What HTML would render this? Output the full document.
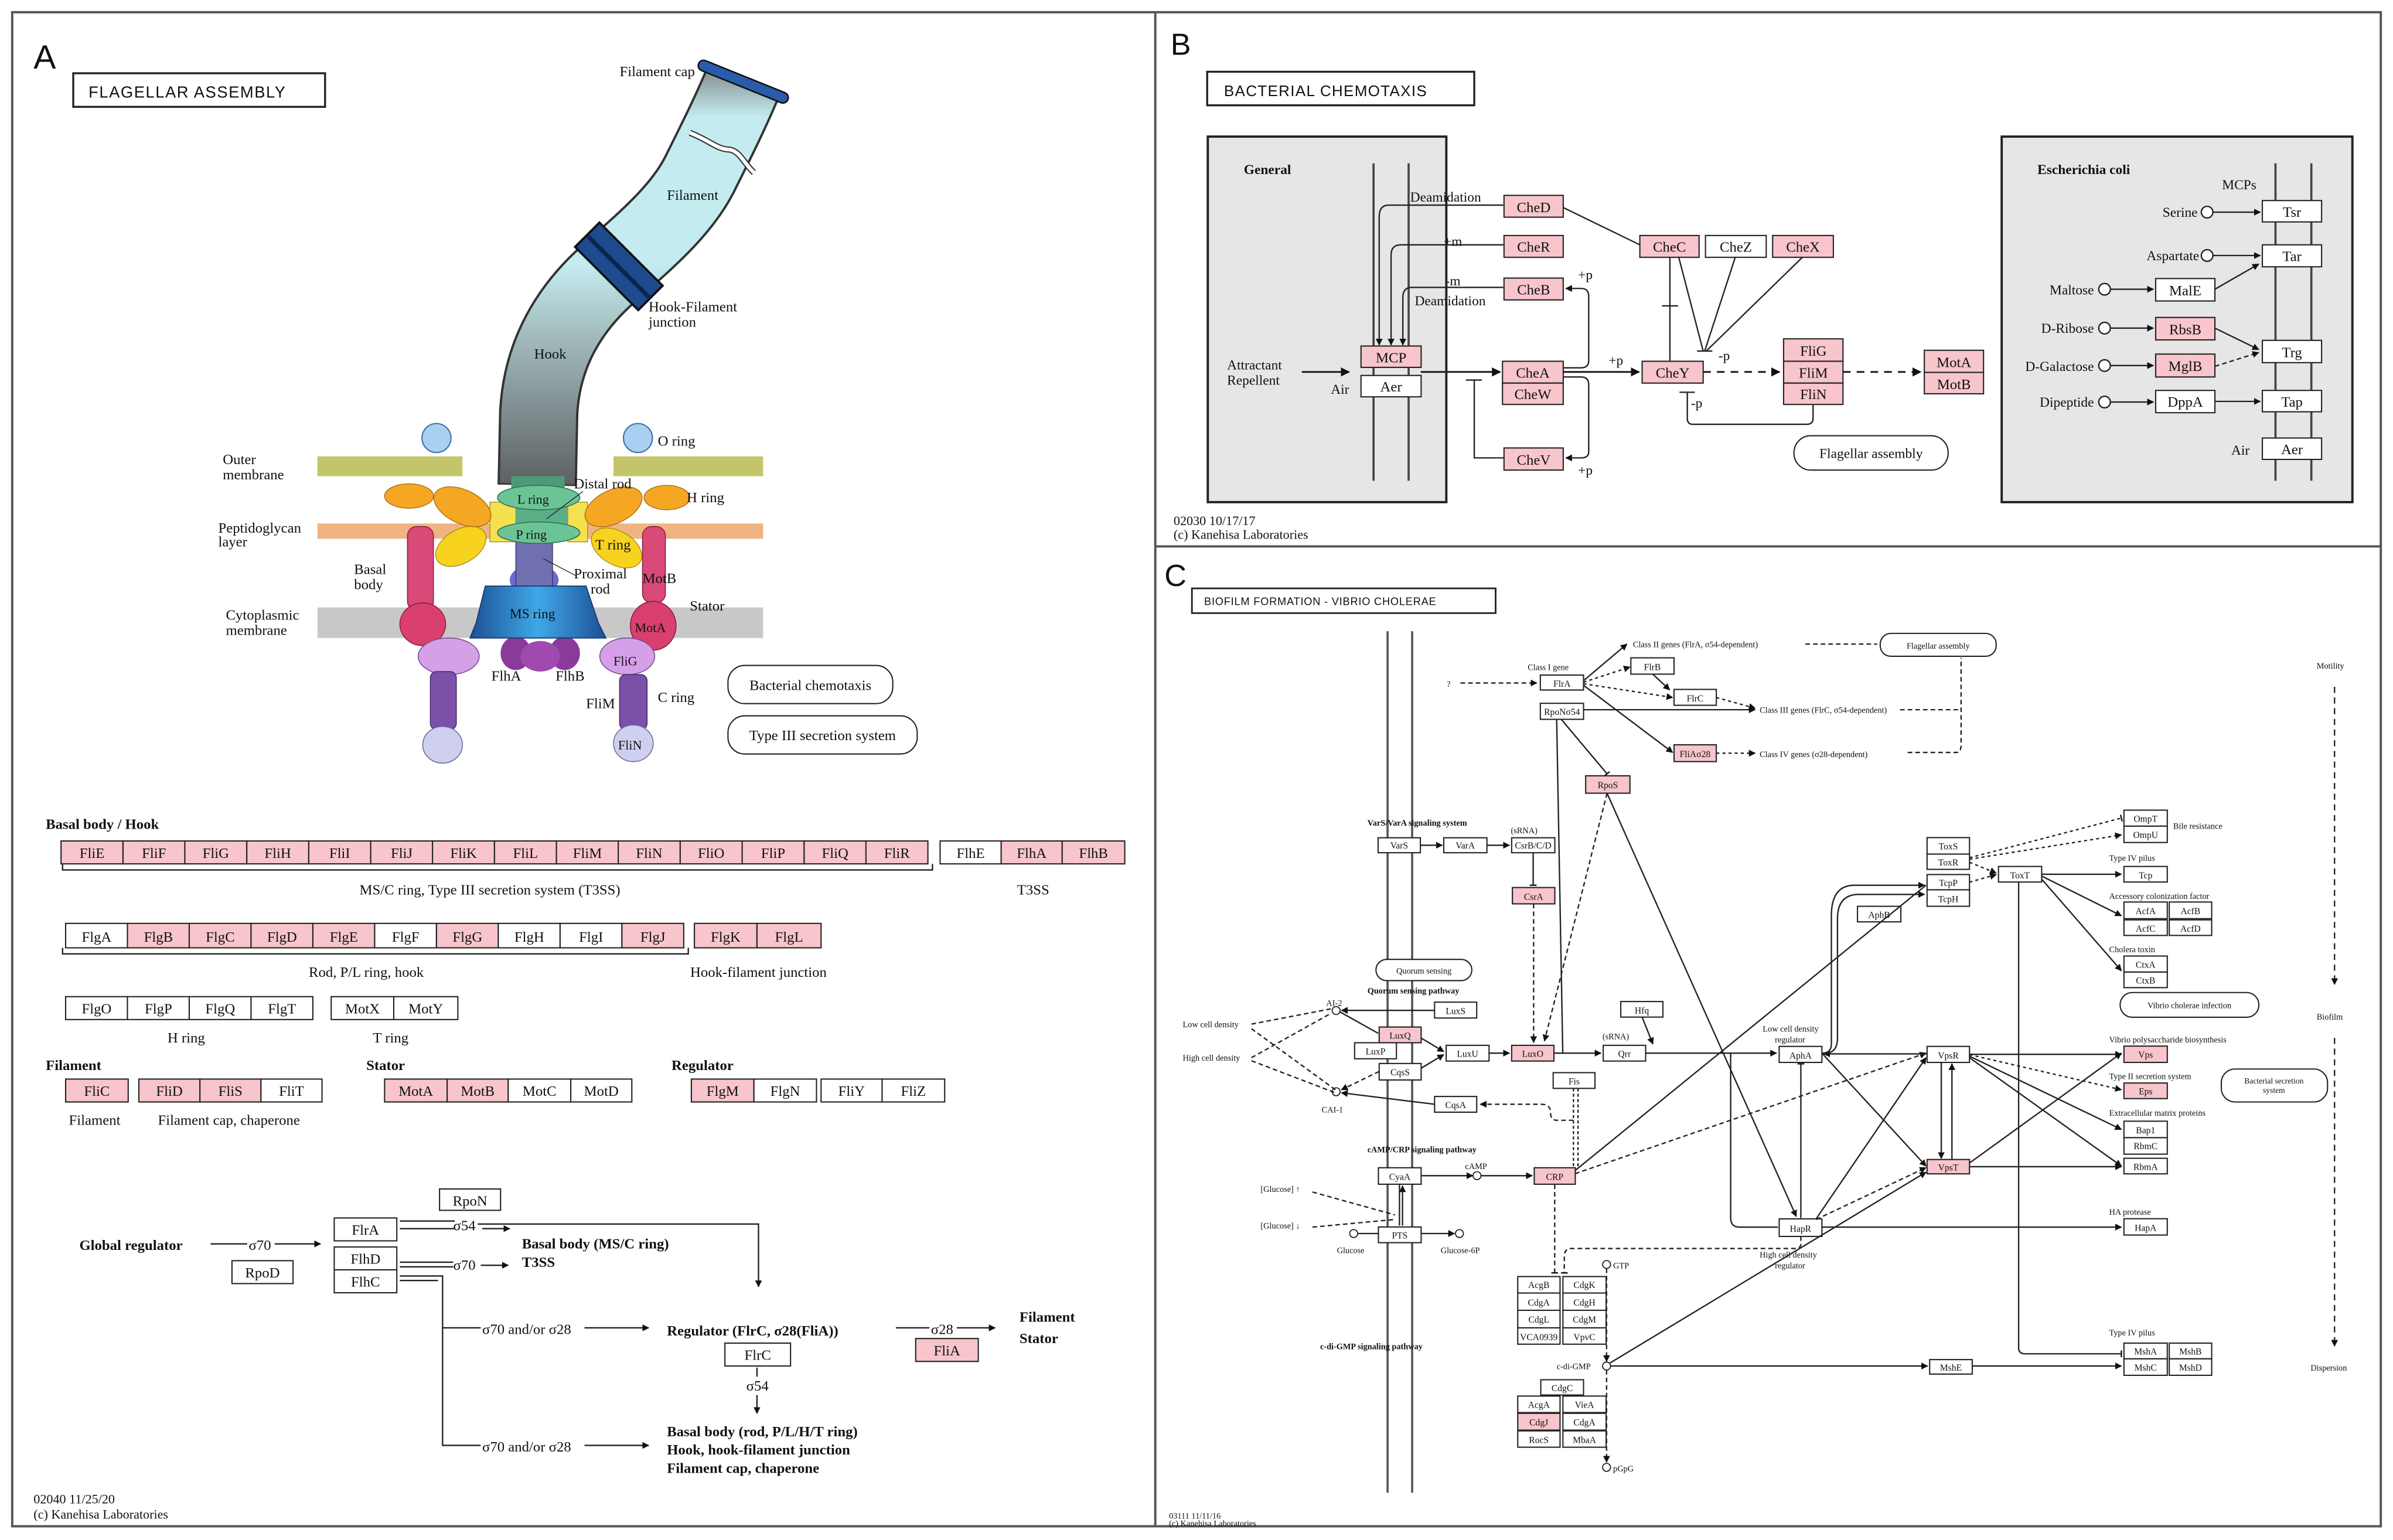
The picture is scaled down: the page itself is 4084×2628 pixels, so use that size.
<!DOCTYPE html>
<html><head><meta charset="utf-8"><style>
html,body{margin:0;padding:0;background:#fff;}
svg{display:block;}
text{font-family:"Liberation Serif",serif;fill:#111;}
.s{font-family:"Liberation Sans",sans-serif;}
.b{fill:#fff;stroke:#222;stroke-width:.8;}
.p{fill:#f7c5cb;stroke:#222;stroke-width:.8;}
.g text{text-anchor:middle;font-size:9.5px;}
.l{fill:none;stroke:#222;stroke-width:.9;}
.d{fill:none;stroke:#222;stroke-width:.9;stroke-dasharray:4 3;}
.c text{font-size:5.5px;}
.cb text{text-anchor:middle;font-size:6px;}
</style></head><body>
<svg width="4084" height="2628" viewBox="0 0 1568 1009" preserveAspectRatio="none" xmlns="http://www.w3.org/2000/svg">
<defs>
<marker id="a" viewBox="0 0 10 10" refX="9" refY="5" markerWidth="5" markerHeight="5" orient="auto"><path d="M0,0L10,5L0,10z" fill="#111"/></marker>
<marker id="t" viewBox="0 0 10 10" refX="5" refY="5" markerWidth="5" markerHeight="5" orient="auto"><path d="M5,0L5,10" stroke="#111" stroke-width="2"/></marker>
<linearGradient id="fg" gradientUnits="userSpaceOnUse" x1="0" y1="50" x2="0" y2="318">
<stop offset="0" stop-color="#8e9a9c"/><stop offset=".1" stop-color="#c4ecf0"/><stop offset=".46" stop-color="#c4ecf0"/><stop offset=".6" stop-color="#a9c4c6"/><stop offset="1" stop-color="#5c6062"/></linearGradient>
<linearGradient id="ms" x1="0" y1="0" x2="1" y2="0"><stop offset="0" stop-color="#1d4f95"/><stop offset=".5" stop-color="#3fa8e8"/><stop offset="1" stop-color="#1d4f95"/></linearGradient>
</defs>
<rect width="1568" height="1009" fill="#fff"/>
<!-- frames -->
<g fill="none" stroke="#555" stroke-width="1.5">
<rect x="8" y="8" width="1552" height="992"/>
<line x1="757" y1="8" x2="757" y2="1000"/>
<line x1="757" y1="358" x2="1560" y2="358"/>
</g>

<!-- ================= PANEL A ================= -->
<text x="22" y="45" class="s" font-size="22">A</text>
<rect x="48" y="48" width="165" height="22" fill="#fff" stroke="#222" stroke-width="1.3"/>
<text x="58" y="64" class="s" font-size="10.5" letter-spacing=".6">FLAGELLAR ASSEMBLY</text>

<!-- membranes -->
<rect x="208" y="299" width="95" height="13" fill="#c4c46a"/>
<rect x="402" y="299" width="98" height="13" fill="#c4c46a"/>
<rect x="208" y="343" width="292" height="10" fill="#f0b482"/>
<rect x="208" y="398" width="292" height="20" fill="#c8c8c8"/>

<!-- flagellum tube -->
<path d="M352,318 L353,270 C355,235 370,205 398,180 C420,160 445,140 458,115 C468,95 478,75 486,56" fill="none" stroke="#333" stroke-width="52"/>
<path d="M352,317 L353,270 C355,235 370,205 398,180 C420,160 445,140 458,115 C468,95 478,75 486,56" fill="none" stroke="url(#fg)" stroke-width="49"/>
<path d="M452,87 C465,92 470,98 478,98 C485,99 488,108 494,113" fill="none" stroke="#333" stroke-width="4"/>
<path d="M452,87 C465,92 470,98 478,98 C485,99 488,108 494,113" fill="none" stroke="#fff" stroke-width="2.4"/>
<path d="M397,183 L414,166" stroke="#111" stroke-width="60" fill="none"/>
<path d="M398,182 L413,167" stroke="#1e4a8e" stroke-width="57" fill="none"/>
<path d="M404.5,176 L406.5,174" stroke="#0c2450" stroke-width="57" fill="none"/>
<path d="M461,43 L513,64" stroke="#111" stroke-width="8" stroke-linecap="round"/>
<path d="M461,43 L513,64" stroke="#2a5cab" stroke-width="6" stroke-linecap="round"/>

<!-- O ring circles -->
<circle cx="286" cy="287" r="9.5" fill="#a8d0f0" stroke="#3c6ea8" stroke-width=".8"/>
<circle cx="418" cy="287" r="9.5" fill="#a8d0f0" stroke="#3c6ea8" stroke-width=".8"/>

<!-- pink stalks -->
<rect x="267" y="345" width="17" height="55" rx="6" fill="#d94a78" stroke="#8a1e44" stroke-width=".6"/>
<ellipse cx="277" cy="409" rx="15" ry="14" fill="#d9406e" stroke="#8a1e44" stroke-width=".6"/>
<rect x="421" y="345" width="15" height="50" rx="6" fill="#d94a78" stroke="#8a1e44" stroke-width=".6"/>
<ellipse cx="428" cy="410" rx="15" ry="16" fill="#d9406e" stroke="#8a1e44" stroke-width=".6"/>
<!-- lilac & purple lower -->
<ellipse cx="294" cy="430" rx="20" ry="12" fill="#d6a0e8" stroke="#7a4a90" stroke-width=".6"/>
<rect x="282" y="440" width="17" height="38" rx="4" fill="#7a50a8" stroke="#4a2a70" stroke-width=".6"/>
<ellipse cx="290" cy="488" rx="13" ry="12" fill="#cfcff0" stroke="#6a6aa0" stroke-width=".6"/>
<ellipse cx="411" cy="430" rx="18" ry="12" fill="#d6a0e8" stroke="#7a4a90" stroke-width=".6"/>
<rect x="406" y="442" width="18" height="36" rx="4" fill="#7a50a8" stroke="#4a2a70" stroke-width=".6"/>
<ellipse cx="415" cy="487" rx="13" ry="12" fill="#cfcff0" stroke="#6a6aa0" stroke-width=".6"/>
<!-- purple lobes under MS -->
<ellipse cx="338" cy="428" rx="10" ry="11" fill="#8a3a9a"/>
<ellipse cx="370" cy="428" rx="10" ry="11" fill="#8a3a9a"/>
<ellipse cx="354" cy="430" rx="13" ry="10" fill="#a04ab0"/>
<!-- rod -->
<ellipse cx="350" cy="380" rx="16" ry="10" fill="#6a6ad0"/>
<rect x="338" y="352" width="24" height="36" fill="#7070b0" stroke="#3a3a70" stroke-width=".6"/>
<!-- MS ring -->
<path d="M318,384 L384,384 L392,408 L397,418 L308,418 L312,408 Z" fill="url(#ms)" stroke="#133a70" stroke-width=".7"/>
<!-- yellow sleeves / T ring -->
<rect x="321" y="329" width="17" height="26" fill="#f5e050" stroke="#9a8a20" stroke-width=".5"/>
<rect x="372" y="329" width="13" height="26" fill="#f5e050" stroke="#9a8a20" stroke-width=".5"/>
<ellipse cx="302" cy="358" rx="18" ry="11" transform="rotate(-30 302 358)" fill="#f7d21e" stroke="#a08a10" stroke-width=".5"/>
<ellipse cx="404" cy="359" rx="18" ry="11" transform="rotate(30 404 359)" fill="#f7d21e" stroke="#a08a10" stroke-width=".5"/>
<!-- H ring -->
<ellipse cx="268" cy="325" rx="16" ry="8" fill="#f5a623" stroke="#a06a10" stroke-width=".5"/>
<ellipse cx="303" cy="332" rx="20" ry="11" transform="rotate(25 303 332)" fill="#f5a623" stroke="#a06a10" stroke-width=".5"/>
<ellipse cx="437" cy="326" rx="15" ry="8" fill="#f5a623" stroke="#a06a10" stroke-width=".5"/>
<ellipse cx="402" cy="332" rx="20" ry="11" transform="rotate(-25 402 332)" fill="#f5a623" stroke="#a06a10" stroke-width=".5"/>
<!-- green rings -->
<rect x="335" y="312" width="35" height="8" fill="#4e9a78"/>
<rect x="338" y="330" width="34" height="16" fill="#5aae88"/>
<ellipse cx="353" cy="326" rx="27" ry="8" fill="#6cc496" stroke="#2e7050" stroke-width=".6"/>
<ellipse cx="353" cy="349" rx="27" ry="7" fill="#6cc496" stroke="#2e7050" stroke-width=".6"/>
<line x1="358" y1="340" x2="382" y2="322" stroke="#222" stroke-width=".5"/>
<line x1="356" y1="366" x2="377" y2="377" stroke="#222" stroke-width=".5"/>

<g font-size="9.5">
<text x="406" y="50">Filament cap</text>
<text x="437" y="131">Filament</text>
<text x="425" y="204">Hook-Filament</text>
<text x="425" y="214">junction</text>
<text x="350" y="235">Hook</text>
<text x="431" y="292">O ring</text>
<text x="146" y="304">Outer</text>
<text x="146" y="314">membrane</text>
<text x="376" y="320">Distal rod</text>
<text x="450" y="329">H ring</text>
<text x="339" y="330" font-size="8.5">L ring</text>
<text x="338" y="353" font-size="8.5">P ring</text>
<text x="143" y="349">Peptidoglycan</text>
<text x="143" y="358">layer</text>
<text x="390" y="360">T ring</text>
<text x="232" y="376">Basal</text>
<text x="232" y="386">body</text>
<text x="376" y="379">Proximal</text>
<text x="387" y="389">rod</text>
<text x="421" y="382">MotB</text>
<text x="452" y="400">Stator</text>
<text x="148" y="406">Cytoplasmic</text>
<text x="148" y="416">membrane</text>
<text x="334" y="405" fill="#fff" font-size="9">MS ring</text>
<text x="416" y="414" font-size="8.5">MotA</text>
<text x="402" y="436" font-size="8.5">FliG</text>
<text x="322" y="446">FlhA</text>
<text x="364" y="446">FlhB</text>
<text x="384" y="464">FliM</text>
<text x="431" y="460">C ring</text>
<text x="405" y="491" font-size="8.5">FliN</text>
</g>
<rect x="477" y="436" width="108" height="25" rx="11" class="b"/>
<text x="531" y="452" font-size="9.5" text-anchor="middle">Bacterial chemotaxis</text>
<rect x="477" y="469" width="124" height="25" rx="11" class="b"/>
<text x="539" y="485" font-size="9.5" text-anchor="middle">Type III secretion system</text>

<!-- gene lists -->
<text x="30" y="543" font-size="9.5" font-weight="bold">Basal body / Hook</text>
<g class="g">
<rect x="40" y="551" width="40.6" height="15" class="p"/><text x="60.3" y="562">FliE</text>
<rect x="80.6" y="551" width="40.6" height="15" class="p"/><text x="100.9" y="562">FliF</text>
<rect x="121.1" y="551" width="40.6" height="15" class="p"/><text x="141.4" y="562">FliG</text>
<rect x="161.7" y="551" width="40.6" height="15" class="p"/><text x="182" y="562">FliH</text>
<rect x="202.3" y="551" width="40.6" height="15" class="p"/><text x="222.6" y="562">FliI</text>
<rect x="242.9" y="551" width="40.6" height="15" class="p"/><text x="263.2" y="562">FliJ</text>
<rect x="283.4" y="551" width="40.6" height="15" class="p"/><text x="303.7" y="562">FliK</text>
<rect x="324" y="551" width="40.6" height="15" class="p"/><text x="344.3" y="562">FliL</text>
<rect x="364.6" y="551" width="40.6" height="15" class="p"/><text x="384.9" y="562">FliM</text>
<rect x="405.1" y="551" width="40.6" height="15" class="p"/><text x="425.4" y="562">FliN</text>
<rect x="445.7" y="551" width="40.6" height="15" class="p"/><text x="466" y="562">FliO</text>
<rect x="486.3" y="551" width="40.6" height="15" class="p"/><text x="506.6" y="562">FliP</text>
<rect x="526.9" y="551" width="40.6" height="15" class="p"/><text x="547.2" y="562">FliQ</text>
<rect x="567.4" y="551" width="40.6" height="15" class="p"/><text x="587.7" y="562">FliR</text>
<rect x="616" y="551" width="40" height="15" class="b"/><text x="636" y="562">FlhE</text>
<rect x="656" y="551" width="40" height="15" class="p"/><text x="676" y="562">FlhA</text>
<rect x="696" y="551" width="41" height="15" class="p"/><text x="716.5" y="562">FlhB</text>

<rect x="43" y="605" width="40.5" height="16" class="b"/><text x="63.3" y="617">FlgA</text>
<rect x="83.5" y="605" width="40.5" height="16" class="p"/><text x="103.8" y="617">FlgB</text>
<rect x="124" y="605" width="40.5" height="16" class="p"/><text x="144.3" y="617">FlgC</text>
<rect x="164.5" y="605" width="40.5" height="16" class="p"/><text x="184.8" y="617">FlgD</text>
<rect x="205" y="605" width="40.5" height="16" class="p"/><text x="225.3" y="617">FlgE</text>
<rect x="245.5" y="605" width="40.5" height="16" class="b"/><text x="265.8" y="617">FlgF</text>
<rect x="286" y="605" width="40.5" height="16" class="p"/><text x="306.3" y="617">FlgG</text>
<rect x="326.5" y="605" width="40.5" height="16" class="b"/><text x="346.8" y="617">FlgH</text>
<rect x="367" y="605" width="40.5" height="16" class="b"/><text x="387.3" y="617">FlgI</text>
<rect x="407.5" y="605" width="40.5" height="16" class="p"/><text x="427.8" y="617">FlgJ</text>
<rect x="455" y="605" width="41" height="16" class="p"/><text x="475.5" y="617">FlgK</text>
<rect x="496" y="605" width="42" height="16" class="p"/><text x="517" y="617">FlgL</text>

<rect x="43" y="653" width="40.5" height="15" class="b"/><text x="63.3" y="664">FlgO</text>
<rect x="83.5" y="653" width="40.5" height="15" class="b"/><text x="103.8" y="664">FlgP</text>
<rect x="124" y="653" width="40.5" height="15" class="b"/><text x="144.3" y="664">FlgQ</text>
<rect x="164.5" y="653" width="40.5" height="15" class="b"/><text x="184.8" y="664">FlgT</text>
<rect x="217" y="653" width="41" height="15" class="b"/><text x="237.5" y="664">MotX</text>
<rect x="258" y="653" width="42" height="15" class="b"/><text x="279" y="664">MotY</text>

<rect x="43" y="707" width="41" height="15" class="p"/><text x="63.5" y="718">FliC</text>
<rect x="91" y="707" width="40" height="15" class="p"/><text x="111" y="718">FliD</text>
<rect x="131" y="707" width="40" height="15" class="p"/><text x="151" y="718">FliS</text>
<rect x="171" y="707" width="40" height="15" class="b"/><text x="191" y="718">FliT</text>
<rect x="252" y="707" width="41" height="15" class="p"/><text x="272.5" y="718">MotA</text>
<rect x="293" y="707" width="40" height="15" class="p"/><text x="313" y="718">MotB</text>
<rect x="333" y="707" width="41" height="15" class="b"/><text x="353.5" y="718">MotC</text>
<rect x="374" y="707" width="40" height="15" class="b"/><text x="394" y="718">MotD</text>
<rect x="453" y="707" width="41" height="15" class="p"/><text x="473.5" y="718">FlgM</text>
<rect x="494" y="707" width="41" height="15" class="b"/><text x="514.5" y="718">FlgN</text>
<rect x="538" y="707" width="40" height="15" class="b"/><text x="558" y="718">FliY</text>
<rect x="578" y="707" width="41" height="15" class="b"/><text x="598.5" y="718">FliZ</text>
</g>
<path d="M41,566 v4 h570 v-4" class="l"/>
<path d="M41,621 v4 h410 v-4" class="l"/>
<g font-size="9.5">
<text x="321" y="586" text-anchor="middle">MS/C ring, Type III secretion system (T3SS)</text>
<text x="677" y="586" text-anchor="middle">T3SS</text>
<text x="240" y="640" text-anchor="middle">Rod, P/L ring, hook</text>
<text x="497" y="640" text-anchor="middle">Hook-filament junction</text>
<text x="122" y="683" text-anchor="middle">H ring</text>
<text x="256" y="683" text-anchor="middle">T ring</text>
<text x="30" y="701" font-weight="bold">Filament</text>
<text x="240" y="701" font-weight="bold">Stator</text>
<text x="440" y="701" font-weight="bold">Regulator</text>
<text x="62" y="737" text-anchor="middle">Filament</text>
<text x="150" y="737" text-anchor="middle">Filament cap, chaperone</text>
</g>

<!-- regulatory -->
<g class="g">
<rect x="288" y="779" width="40" height="14" class="b"/><text x="308" y="790">RpoN</text>
<rect x="219" y="798" width="41" height="15" class="b"/><text x="239.5" y="809">FlrA</text>
<rect x="219" y="817" width="41" height="15" class="b"/><text x="239.5" y="828">FlhD</text>
<rect x="219" y="832" width="41" height="15" class="b"/><text x="239.5" y="843">FlhC</text>
<rect x="152" y="826" width="40" height="15" class="b"/><text x="172" y="837">RpoD</text>
<rect x="475" y="880" width="43" height="15" class="b"/><text x="496.5" y="891">FlrC</text>
<rect x="600" y="877" width="41" height="15" class="p"/><text x="620.5" y="888">FliA</text>
</g>
<g font-size="9.5">
<text x="52" y="819" font-weight="bold">Global regulator</text>
<line x1="138" y1="815" x2="162" y2="815" class="l"/><text x="163" y="819">σ70</text>
<line x1="180" y1="815" x2="210" y2="815" class="l" marker-end="url(#a)"/>
<line x1="262" y1="800" x2="298" y2="800" class="l"/><line x1="262" y1="805" x2="298" y2="805" class="l"/>
<text x="297" y="806">σ54</text>
<path d="M313,802 H497 V843" class="l" marker-end="url(#a)"/>
<line x1="316" y1="805" x2="334" y2="805" class="l" marker-end="url(#a)"/>
<text x="342" y="818" font-weight="bold">Basal body (MS/C ring)</text>
<text x="342" y="830" font-weight="bold">T3SS</text>
<line x1="262" y1="827" x2="297" y2="827" class="l"/><line x1="262" y1="830" x2="297" y2="830" class="l"/>
<text x="297" y="832">σ70</text>
<line x1="315" y1="829" x2="333" y2="829" class="l" marker-end="url(#a)"/>
<path d="M262,836 H290 V947 H315 M290,870 H315" class="l"/>
<path d="M262,839 H287" class="l"/>
<text x="316" y="874">σ70 and/or σ28</text>
<line x1="383" y1="870" x2="425" y2="870" class="l" marker-end="url(#a)"/>
<text x="316" y="951">σ70 and/or σ28</text>
<line x1="383" y1="947" x2="425" y2="947" class="l" marker-end="url(#a)"/>
<text x="437" y="875" font-weight="bold">Regulator (FlrC, σ28(FliA))</text>
<line x1="496" y1="896" x2="496" y2="902" class="l"/>
<text x="489" y="911">σ54</text>
<line x1="496" y1="914" x2="496" y2="926" class="l" marker-end="url(#a)"/>
<text x="437" y="941" font-weight="bold">Basal body (rod, P/L/H/T ring)</text>
<text x="437" y="953" font-weight="bold">Hook, hook-filament junction</text>
<text x="437" y="965" font-weight="bold">Filament cap, chaperone</text>
<line x1="587" y1="870" x2="609" y2="870" class="l"/><text x="610" y="874">σ28</text>
<line x1="627" y1="870" x2="652" y2="870" class="l" marker-end="url(#a)"/>
<text x="668" y="866" font-weight="bold">Filament</text>
<text x="668" y="880" font-weight="bold">Stator</text>
<text x="22" y="985" font-size="8.5">02040 11/25/20</text>
<text x="22" y="995" font-size="8.5">(c) Kanehisa Laboratories</text>
</g>

<!-- ================= PANEL B ================= -->
<text x="767" y="36" class="s" font-size="20">B</text>
<rect x="791" y="47" width="175" height="22" fill="#fff" stroke="#222" stroke-width="1.3"/>
<text x="802" y="63" class="s" font-size="10" letter-spacing=".5">BACTERIAL CHEMOTAXIS</text>
<rect x="791.4" y="89.5" width="156.3" height="239.5" fill="#e6e6e6" stroke="#222" stroke-width="1.5"/>
<rect x="1311.6" y="89.5" width="229.8" height="239.5" fill="#e6e6e6" stroke="#222" stroke-width="1.5"/>
<g stroke="#444" stroke-width="1.4"><line x1="900" y1="107" x2="900" y2="315"/><line x1="923" y1="107" x2="923" y2="315"/>
<line x1="1491" y1="107" x2="1491" y2="315"/><line x1="1514.5" y1="107" x2="1514.5" y2="315"/></g>
<g font-size="9">
<text x="815" y="114" font-weight="bold">General</text>
<text x="1335" y="114" font-weight="bold">Escherichia coli</text>
<text x="1456" y="124">MCPs</text>
<text x="804" y="242">Attractant</text>
<text x="804" y="252">Repellent</text>
<text x="872" y="258">Air</text>
<text x="924" y="132">Deamidation</text>
<text x="946" y="161">+m</text>
<text x="947" y="187">-m</text>
<text x="927" y="200">Deamidation</text>
<text x="1034" y="183">+p</text>
<text x="1054" y="239">+p</text>
<text x="1034" y="311">+p</text>
<text x="1126" y="236">-p</text>
<text x="1108" y="267">-p</text>
<text x="769" y="344" font-size="8.5">02030 10/17/17</text>
<text x="769" y="353" font-size="8.5">(c) Kanehisa Laboratories</text>
</g>
<g class="g">
<rect x="891.8" y="226.7" width="39.4" height="14" class="p"/><text x="911.5" y="237.5">MCP</text>
<rect x="891.8" y="246" width="39.4" height="14" class="b"/><text x="911.5" y="256.5">Aer</text>
<rect x="985.5" y="128" width="38.8" height="14.3" class="p"/><text x="1004.9" y="139">CheD</text>
<rect x="985.5" y="154.3" width="38.8" height="14.3" class="p"/><text x="1004.9" y="165">CheR</text>
<rect x="985.5" y="182.2" width="38.8" height="14.3" class="p"/><text x="1004.9" y="193">CheB</text>
<rect x="984.5" y="236.7" width="39.8" height="14.3" class="p"/><text x="1004.4" y="247.5">CheA</text>
<rect x="984.5" y="251" width="39.8" height="14" class="p"/><text x="1004.4" y="261.5">CheW</text>
<rect x="985.5" y="293.5" width="38.8" height="14.5" class="p"/><text x="1004.9" y="304.5">CheV</text>
<rect x="1074.5" y="154.3" width="38.8" height="14.3" class="p"/><text x="1093.9" y="165">CheC</text>
<rect x="1117.5" y="154.3" width="39.8" height="14.3" class="b"/><text x="1137.4" y="165">CheZ</text>
<rect x="1161.5" y="154.3" width="39.8" height="14.3" class="p"/><text x="1181.4" y="165">CheX</text>
<rect x="1076" y="236.7" width="40" height="14.3" class="p"/><text x="1096" y="247.5">CheY</text>
<rect x="1168.7" y="222" width="38.9" height="14.7" class="p"/><text x="1188.2" y="233">FliG</text>
<rect x="1168.7" y="236.7" width="38.9" height="14.3" class="p"/><text x="1188.2" y="247.5">FliM</text>
<rect x="1168.7" y="251" width="38.9" height="14" class="p"/><text x="1188.2" y="261.5">FliN</text>
<rect x="1260.9" y="229.5" width="38.8" height="14.5" class="p"/><text x="1280.3" y="240.5">MotA</text>
<rect x="1260.9" y="244" width="38.8" height="14" class="p"/><text x="1280.3" y="255">MotB</text>
<rect x="1482.4" y="131.4" width="38.8" height="14" class="b"/><text x="1501.8" y="142">Tsr</text>
<rect x="1482.4" y="160.4" width="38.8" height="14.4" class="b"/><text x="1501.8" y="171">Tar</text>
<rect x="1482.4" y="223" width="38.8" height="14.6" class="b"/><text x="1501.8" y="234">Trg</text>
<rect x="1482.4" y="255.8" width="38.8" height="14" class="b"/><text x="1501.8" y="266.5">Tap</text>
<rect x="1482.4" y="287" width="38.8" height="14" class="b"/><text x="1501.8" y="297.5">Aer</text>
<rect x="1412.5" y="182.5" width="38.8" height="14.7" class="b"/><text x="1431.9" y="193.5">MalE</text>
<rect x="1412.5" y="208" width="38.8" height="14.7" class="p"/><text x="1431.9" y="219">RbsB</text>
<rect x="1412.5" y="232" width="38.8" height="15" class="p"/><text x="1431.9" y="243">MglB</text>
<rect x="1412.5" y="255.8" width="38.8" height="14.6" class="b"/><text x="1431.9" y="266.5">DppA</text>
</g>
<rect x="1175.5" y="285.5" width="101" height="22.5" rx="11" class="b"/>
<text x="1226" y="300" font-size="9" text-anchor="middle">Flagellar assembly</text>
<g class="l">
<line x1="853" y1="243.7" x2="884" y2="243.7" marker-end="url(#a)" stroke-width="1.2"/>
<line x1="931" y1="243.7" x2="983" y2="243.7" marker-end="url(#a)" stroke-width="1.2"/>
<path d="M985,134.4 H910 Q903.7,134.4 903.7,142 V226" marker-end="url(#a)"/>
<path d="M985,160.4 H918 Q911.5,160.4 911.5,167 V226" marker-end="url(#a)"/>
<path d="M985,188.3 H925 Q919.2,188.3 919.2,195 V226" marker-end="url(#a)"/>
<line x1="1024.3" y1="243.7" x2="1074" y2="243.7" marker-end="url(#a)" stroke-width="1.2"/>
<path d="M1024.3,241 H1036 Q1041,241 1041,236 V194 Q1041,189 1036,189 H1026" marker-end="url(#a)"/>
<path d="M1024.3,247 H1036 Q1041,247 1041,252 V296 Q1041,300 1036,300 H1026" marker-end="url(#a)"/>
<path d="M985.5,300 H966 V249" /><line x1="960.5" y1="249" x2="971" y2="249"/>
<line x1="1024.3" y1="136" x2="1074.5" y2="160.4"/>
<line x1="1094.2" y1="168.6" x2="1094.2" y2="236.7"/><line x1="1089" y1="200.4" x2="1099.5" y2="200.4"/>
<line x1="1100" y1="168.6" x2="1116" y2="230"/><line x1="1137" y1="168.6" x2="1117" y2="230"/><line x1="1181" y1="168.6" x2="1118" y2="230"/>
<line x1="1112" y1="230" x2="1122" y2="230"/>
<line x1="1116" y1="243.7" x2="1166" y2="243.7" stroke-dasharray="5 4" stroke-width="1.2" marker-end="url(#a)"/>
<line x1="1207.6" y1="243.7" x2="1258.5" y2="243.7" stroke-dasharray="5 4" stroke-width="1.2" marker-end="url(#a)"/>
<path d="M1188,265 V274 Q1188,278 1184,278 H1109 Q1105.6,278 1105.6,274 V257"/><line x1="1100.5" y1="257" x2="1110.5" y2="257"/>
<line x1="1450" y1="139" x2="1481" y2="139" marker-end="url(#a)"/>
<line x1="1450" y1="167.4" x2="1481" y2="167.4" marker-end="url(#a)"/>
<line x1="1383" y1="189.5" x2="1411" y2="189.5" marker-end="url(#a)"/>
<line x1="1451.3" y1="189.5" x2="1480" y2="173" marker-end="url(#a)"/>
<line x1="1383" y1="215" x2="1411" y2="215" marker-end="url(#a)"/>
<line x1="1383" y1="239.5" x2="1411" y2="239.5" marker-end="url(#a)"/>
<line x1="1383" y1="263.4" x2="1411" y2="263.4" marker-end="url(#a)"/>
<line x1="1451.3" y1="215" x2="1480" y2="229" marker-end="url(#a)"/>
<line x1="1451.3" y1="240" x2="1480" y2="231" stroke-dasharray="3 2" marker-end="url(#a)"/>
<line x1="1451.3" y1="263" x2="1481" y2="263" marker-end="url(#a)"/>
</g>
<g fill="#fff" stroke="#222" stroke-width=".9">
<circle cx="1446.2" cy="139" r="3.8"/><circle cx="1446.2" cy="167.4" r="3.8"/>
<circle cx="1379" cy="189.5" r="3.8"/><circle cx="1379" cy="215" r="3.8"/><circle cx="1379" cy="239.5" r="3.8"/><circle cx="1379" cy="263.4" r="3.8"/>
</g>
<g font-size="9" text-anchor="end">
<text x="1440" y="142">Serine</text><text x="1441" y="170.5">Aspartate</text>
<text x="1372" y="193">Maltose</text><text x="1372" y="218">D-Ribose</text>
<text x="1372" y="243">D-Galactose</text><text x="1372" y="266.5">Dipeptide</text>
<text x="1474" y="298">Air</text>
</g>

<!-- ================= PANEL C ================= -->
<text x="763" y="384" class="s" font-size="20">C</text>
<rect x="781" y="385.5" width="199" height="16.2" fill="#fff" stroke="#222" stroke-width="1.1"/>
<text x="789" y="396.5" class="s" font-size="7" letter-spacing=".3">BIOFILM FORMATION - VIBRIO CHOLERAE</text>
<g stroke="#555" stroke-width="1.4"><line x1="909.2" y1="413.6" x2="909.2" y2="978"/><line x1="925.3" y1="413.6" x2="925.3" y2="978"/></g>

<g class="cb">
<rect x="1009.3" y="442.3" width="28.3" height="9.8" class="b"/><text x="1023.5" y="450">FlrA</text>
<rect x="1009.3" y="460.8" width="28.3" height="10.5" class="b"/><text x="1023.5" y="468.5">RpoNσ54</text>
<rect x="1068.6" y="431" width="28.3" height="10.7" class="b"/><text x="1082.7" y="439">FlrB</text>
<rect x="1096.9" y="451.7" width="27.7" height="10.4" class="b"/><text x="1110.7" y="459.5">FlrC</text>
<rect x="1096.9" y="488" width="27.7" height="11" class="p"/><text x="1110.7" y="496">FliAσ28</text>
<rect x="1039" y="508.3" width="29" height="11.4" class="p"/><text x="1053.5" y="516.5">RpoS</text>
<rect x="903" y="548.9" width="27.7" height="9.8" class="b"/><text x="916.8" y="556">VarS</text>
<rect x="946" y="548.9" width="28.3" height="9.8" class="b"/><text x="960.1" y="556">VarA</text>
<rect x="990.5" y="548.9" width="28.3" height="9.8" class="b"/><text x="1004.6" y="556">CsrB/C/D</text>
<rect x="991" y="581.5" width="27.8" height="10.7" class="p"/><text x="1004.9" y="589.5">CsrA</text>
<rect x="940" y="656.6" width="27.6" height="10.4" class="b"/><text x="953.8" y="664.5">LuxS</text>
<rect x="903.7" y="672.9" width="27.5" height="10.3" class="p"/><text x="917.4" y="680.5">LuxQ</text>
<rect x="887.6" y="683.2" width="27.4" height="10.5" class="b"/><text x="901.3" y="691">LuxP</text>
<rect x="903.7" y="696.8" width="27.5" height="10.8" class="b"/><text x="917.4" y="704.5">CqsS</text>
<rect x="947.6" y="684.9" width="28.1" height="10.3" class="b"/><text x="961.6" y="692.5">LuxU</text>
<rect x="990.5" y="684.9" width="27.7" height="10.3" class="p"/><text x="1004.3" y="692.5">LuxO</text>
<rect x="1050.5" y="684.9" width="27.8" height="10.3" class="b"/><text x="1064.4" y="692.5">Qrr</text>
<rect x="1062" y="656.2" width="27.6" height="10.2" class="b"/><text x="1075.8" y="664">Hfq</text>
<rect x="1017.7" y="702.8" width="27.4" height="10.3" class="b"/><text x="1031.4" y="710.5">Fis</text>
<rect x="940" y="718.4" width="27.6" height="10.3" class="b"/><text x="953.8" y="726">CqsA</text>
<rect x="1165.8" y="685.6" width="28" height="10.5" class="b"/><text x="1179.8" y="693.5">AphA</text>
<rect x="903.2" y="765.1" width="28" height="10.8" class="b"/><text x="917.2" y="773">CyaA</text>
<rect x="1005.3" y="765.1" width="26.9" height="10.8" class="p"/><text x="1018.7" y="773">CRP</text>
<rect x="903.2" y="803.9" width="28" height="10.3" class="b"/><text x="917.2" y="811.5">PTS</text>
<rect x="1165.8" y="798.6" width="28" height="11.5" class="b"/><text x="1179.8" y="807">HapR</text>
<rect x="994.5" y="836.4" width="27.7" height="10.8" class="b"/><text x="1008.3" y="844">AcgB</text>
<rect x="1024.1" y="836.4" width="28.3" height="10.8" class="b"/><text x="1038.2" y="844">CdgK</text>
<rect x="994.5" y="847.2" width="27.7" height="11.3" class="b"/><text x="1008.3" y="855.5">CdgA</text>
<rect x="1024.1" y="847.2" width="28.3" height="11.3" class="b"/><text x="1038.2" y="855.5">CdgH</text>
<rect x="994.5" y="858.5" width="27.7" height="11.5" class="b"/><text x="1008.3" y="866.5">CdgL</text>
<rect x="1024.1" y="858.5" width="28.3" height="11.5" class="b"/><text x="1038.2" y="866.5">CdgM</text>
<rect x="994.5" y="870" width="27.7" height="10.7" class="b"/><text x="1008.3" y="878" font-size="5">VCA0939</text>
<rect x="1024.1" y="870" width="28.3" height="10.7" class="b"/><text x="1038.2" y="878">VpvC</text>
<rect x="1009.6" y="904" width="28" height="10" class="b"/><text x="1023.6" y="911.5">CdgC</text>
<rect x="994.5" y="914.7" width="27.7" height="10.8" class="b"/><text x="1008.3" y="922.5">AcgA</text>
<rect x="1024.1" y="914.7" width="28.3" height="10.8" class="b"/><text x="1038.2" y="922.5">VieA</text>
<rect x="994.5" y="926" width="27.7" height="11" class="p"/><text x="1008.3" y="934">CdgJ</text>
<rect x="1024.1" y="926" width="28.3" height="11" class="b"/><text x="1038.2" y="934">CdgA</text>
<rect x="994.5" y="937.5" width="27.7" height="10.7" class="b"/><text x="1008.3" y="945.5">RocS</text>
<rect x="1024.1" y="937.5" width="28.3" height="10.7" class="b"/><text x="1038.2" y="945.5">MbaA</text>
<rect x="1264.4" y="890.8" width="27.9" height="9.5" class="b"/><text x="1278.3" y="898">MshE</text>
<rect x="1262.7" y="548.8" width="27.8" height="10.8" class="b"/><text x="1276.6" y="556.5">ToxS</text>
<rect x="1262.7" y="559.6" width="27.8" height="10" class="b"/><text x="1276.6" y="567">ToxR</text>
<rect x="1262.7" y="573" width="27.8" height="10" class="b"/><text x="1276.6" y="580.5">TcpP</text>
<rect x="1262.7" y="583" width="27.8" height="10.8" class="b"/><text x="1276.6" y="591">TcpH</text>
<rect x="1217.1" y="593.8" width="28.4" height="10.2" class="b"/><text x="1231.3" y="601.5">AphB</text>
<rect x="1309.5" y="567.7" width="28.3" height="10.2" class="b"/><text x="1323.6" y="575.5">ToxT</text>
<rect x="1391.7" y="530.8" width="28.4" height="10.5" class="b"/><text x="1405.9" y="538.5">OmpT</text>
<rect x="1391.7" y="541.3" width="28.4" height="10.7" class="b"/><text x="1405.9" y="549">OmpU</text>
<rect x="1391.7" y="567.7" width="28.4" height="10.2" class="b"/><text x="1405.9" y="575.5">Tcp</text>
<rect x="1391.7" y="591" width="28.4" height="10.9" class="b"/><text x="1405.9" y="599">AcfA</text>
<rect x="1421.4" y="591" width="27.8" height="10.9" class="b"/><text x="1435.3" y="599">AcfB</text>
<rect x="1391.7" y="602.7" width="28.4" height="10.2" class="b"/><text x="1405.9" y="610.5">AcfC</text>
<rect x="1421.4" y="602.7" width="27.8" height="10.2" class="b"/><text x="1435.3" y="610.5">AcfD</text>
<rect x="1391.7" y="626.4" width="28.4" height="10.5" class="b"/><text x="1405.9" y="634">CtxA</text>
<rect x="1391.7" y="636.9" width="28.4" height="10.2" class="b"/><text x="1405.9" y="644.5">CtxB</text>
<rect x="1391.7" y="685.4" width="28.4" height="10.7" class="p"/><text x="1405.9" y="693">Vps</text>
<rect x="1391.7" y="709.6" width="28.4" height="10.2" class="p"/><text x="1405.9" y="717">Eps</text>
<rect x="1391.7" y="734.6" width="28.4" height="10.8" class="b"/><text x="1405.9" y="742.5">Bap1</text>
<rect x="1391.7" y="745.4" width="28.4" height="10.8" class="b"/><text x="1405.9" y="753">RbmC</text>
<rect x="1391.7" y="758.9" width="28.4" height="10.2" class="b"/><text x="1405.9" y="766.5">RbmA</text>
<rect x="1262.7" y="685.6" width="27.8" height="10.5" class="b"/><text x="1276.6" y="693.5">VpsR</text>
<rect x="1262.7" y="759.7" width="27.8" height="9.4" class="p"/><text x="1276.6" y="767">VpsT</text>
<rect x="1391.7" y="798.5" width="28.4" height="10.7" class="b"/><text x="1405.9" y="806.5">HapA</text>
<rect x="1391.7" y="880" width="28.4" height="10.3" class="b"/><text x="1405.9" y="887.5">MshA</text>
<rect x="1421.4" y="880" width="27.8" height="10.3" class="b"/><text x="1435.3" y="887.5">MshB</text>
<rect x="1391.7" y="890.3" width="28.4" height="10.8" class="b"/><text x="1405.9" y="898">MshC</text>
<rect x="1421.4" y="890.3" width="27.8" height="10.8" class="b"/><text x="1435.3" y="898">MshD</text>
</g>
<rect x="1232" y="415" width="76" height="15" rx="7" class="b"/>
<text x="1270" y="425" font-size="5.5" text-anchor="middle">Flagellar assembly</text>
<rect x="901.6" y="628.6" width="62.8" height="13.9" rx="7" class="b"/>
<text x="933" y="638" font-size="5.5" text-anchor="middle">Quorum sensing</text>
<rect x="1389.2" y="650.3" width="90.9" height="16.2" rx="8" class="b"/>
<text x="1434.6" y="660.5" font-size="5.5" text-anchor="middle">Vibrio cholerae infection</text>
<rect x="1455.5" y="700.4" width="69.6" height="21.6" rx="9" class="b"/>
<text x="1490" y="710" font-size="5.2" text-anchor="middle">Bacterial secretion</text>
<text x="1490" y="716" font-size="5.2" text-anchor="middle">system</text>

<g class="c">
<text x="1001" y="439">Class I gene</text>
<text x="948" y="450">?</text>
<text x="1070" y="424">Class II genes (FlrA, σ54-dependent)</text>
<text x="1153" y="467">Class III genes (FlrC, σ54-dependent)</text>
<text x="1153" y="496">Class IV genes (σ28-dependent)</text>
<text x="896" y="541" font-weight="bold">VarS/VarA signaling system</text>
<text x="990" y="546">(sRNA)</text>
<text x="896" y="651" font-weight="bold">Quorum sensing pathway</text>
<text x="869" y="659">AI-2</text>
<text x="866" y="729">CAI-1</text>
<text x="775" y="673">Low cell density</text>
<text x="775" y="695">High cell density</text>
<text x="1050" y="681">(sRNA)</text>
<text x="1155" y="676">Low cell density</text>
<text x="1163" y="683">regulator</text>
<text x="896" y="755" font-weight="bold">cAMP/CRP signaling pathway</text>
<text x="960" y="766">cAMP</text>
<text x="826" y="781">[Glucose] ↑</text>
<text x="826" y="805">[Glucose] ↓</text>
<text x="876" y="821">Glucose</text>
<text x="944" y="821">Glucose-6P</text>
<text x="1153" y="824">High cell density</text>
<text x="1163" y="831">regulator</text>
<text x="1057" y="831">GTP</text>
<text x="1020" y="897">c-di-GMP</text>
<text x="865" y="884" font-weight="bold">c-di-GMP signaling pathway</text>
<text x="1057" y="964">pGpG</text>
<text x="1424" y="543">Bile resistance</text>
<text x="1382" y="564">Type IV pilus</text>
<text x="1382" y="589">Accessory colonization factor</text>
<text x="1382" y="624">Cholera toxin</text>
<text x="1382" y="683">Vibrio polysaccharide biosynthesis</text>
<text x="1382" y="707">Type II secretion system</text>
<text x="1382" y="731">Extracellular matrix proteins</text>
<text x="1382" y="796">HA protease</text>
<text x="1382" y="875">Type IV pilus</text>
<text x="1518" y="438">Motility</text>
<text x="1518" y="668">Biofilm</text>
<text x="1514" y="898">Dispersion</text>
<text x="766" y="995" font-size="5">03111 11/11/16</text>
<text x="766" y="1000" font-size="5">(c) Kanehisa Laboratories</text>
</g>
<g fill="#fff" stroke="#222" stroke-width=".7">
<circle cx="875.5" cy="662.1" r="2.6"/><circle cx="875.5" cy="715.3" r="2.6"/>
<circle cx="967.8" cy="770.3" r="2.6"/><circle cx="887" cy="808.2" r="2.6"/><circle cx="956.3" cy="808.2" r="2.6"/>
<circle cx="1052.7" cy="828.5" r="2.6"/><circle cx="1052.7" cy="895" r="2.6"/><circle cx="1052.7" cy="961.4" r="2.6"/>
</g>
<g class="l" stroke-width=".7">
<line x1="957" y1="447.5" x2="1007" y2="447.5" stroke-dasharray="3 2" marker-end="url(#a)"/>
<line x1="1037.6" y1="446" x2="1066" y2="422" marker-end="url(#a)"/>
<line x1="1037.6" y1="447" x2="1068" y2="437" stroke-dasharray="2 2" marker-end="url(#a)"/>
<line x1="1037.6" y1="448" x2="1096" y2="457" stroke-dasharray="2 2" marker-end="url(#a)"/>
<line x1="1037.6" y1="449" x2="1096" y2="493" marker-end="url(#a)"/>
<line x1="1083" y1="441.7" x2="1094" y2="452" marker-end="url(#a)"/>
<line x1="1037.6" y1="465" x2="1150" y2="465" marker-end="url(#a)"/>
<line x1="1124.6" y1="457" x2="1150" y2="464" stroke-dasharray="2 2" marker-end="url(#a)"/>
<line x1="1124.6" y1="493.5" x2="1150" y2="493.5" stroke-dasharray="2 2" marker-end="url(#a)"/>
<line x1="1183" y1="422" x2="1230" y2="422" stroke-dasharray="3 2"/>
<path d="M1250,493 H1282 Q1285,493 1285,488 V431" stroke-dasharray="3 2"/>
<line x1="1245" y1="465" x2="1285" y2="465" stroke-dasharray="3 2"/>
<line x1="1023" y1="471.3" x2="1053" y2="507" marker-end="url(#t)"/>
<line x1="1020" y1="471.3" x2="1024" y2="690"/>
<line x1="1053" y1="519.7" x2="1012" y2="682" stroke-dasharray="3 2" marker-end="url(#a)"/>
<line x1="1053" y1="519.7" x2="1177" y2="797" marker-end="url(#a)"/>
<line x1="930.7" y1="553.8" x2="945" y2="553.8" marker-end="url(#a)"/>
<line x1="974.3" y1="553.8" x2="989" y2="553.8" marker-end="url(#a)"/>
<line x1="1004.6" y1="558.7" x2="1004.6" y2="580" marker-end="url(#t)"/>
<line x1="1004.9" y1="592.2" x2="1004.9" y2="683" stroke-dasharray="3 2" marker-end="url(#a)"/>
<line x1="940" y1="662" x2="879" y2="662" marker-end="url(#a)"/>
<line x1="878" y1="663" x2="903" y2="677" />
<line x1="931" y1="680" x2="946" y2="689" marker-end="url(#a)"/>
<line x1="931" y1="700" x2="946" y2="691" marker-end="url(#a)"/>
<line x1="975.7" y1="690" x2="989" y2="690" marker-end="url(#a)"/>
<line x1="1018.2" y1="690" x2="1049" y2="690" marker-end="url(#a)"/>
<line x1="1078.3" y1="690" x2="1164" y2="690" marker-end="url(#a)"/>
<line x1="1076" y1="666.4" x2="1083" y2="684" marker-end="url(#a)"/>
<line x1="940" y1="723.5" x2="879" y2="716" marker-end="url(#a)"/>
<line x1="903.7" y1="702" x2="879" y2="714" stroke-dasharray="3 2" marker-end="url(#a)"/>
<path d="M820,671 L872,661 M820,674 L875,714 M820,693 L872,664 M820,695 L875,716" stroke-dasharray="3 2"/>
<line x1="931.2" y1="770.3" x2="965" y2="770.3" marker-end="url(#a)"/>
<line x1="970.5" y1="770.3" x2="1004" y2="770.3" marker-end="url(#a)"/>
<line x1="1031" y1="713.1" x2="1031" y2="765" stroke-dasharray="2 1.5"/>
<line x1="1034" y1="713.1" x2="1034" y2="765" stroke-dasharray="2 1.5"/>
<path d="M1031,734 H1020 Q1016,734 1016,729 Q1016,723.5 1010,723.5 H970" stroke-dasharray="3 2" marker-end="url(#a)"/>
<line x1="1018.7" y1="776" x2="1018.7" y2="834" stroke-dasharray="3 2" marker-end="url(#t)"/>
<path d="M1180,810 V815 Q1180,818 1176,818 H1030 Q1025,818 1025,823 V834" stroke-dasharray="3 2" marker-end="url(#t)"/>
<line x1="1032" y1="767" x2="1262" y2="580" />
<line x1="1032" y1="769" x2="1262" y2="690" stroke-dasharray="3 2" marker-end="url(#a)"/>
<line x1="1180" y1="798" x2="1180" y2="697" marker-end="url(#t)"/>
<line x1="1193.8" y1="690" x2="1262" y2="764" marker-end="url(#a)"/>
<line x1="1262.7" y1="690.5" x2="1195" y2="690.5" marker-end="url(#a)"/>
<line x1="1190" y1="798.6" x2="1262" y2="693" marker-end="url(#a)"/>
<line x1="1190" y1="799" x2="1262" y2="765" stroke-dasharray="3 2" marker-end="url(#a)"/>
<line x1="1193.8" y1="804" x2="1390" y2="804" marker-end="url(#a)"/>
<line x1="1055" y1="893" x2="1262" y2="768" marker-end="url(#a)"/>
<line x1="1055" y1="895" x2="1263" y2="895" marker-end="url(#a)"/>
<line x1="1292.3" y1="895" x2="1390" y2="895" marker-end="url(#a)"/>
<line x1="1052.7" y1="831" x2="1052.7" y2="892" stroke-dasharray="3 2" marker-end="url(#a)"/>
<line x1="1052.7" y1="897.6" x2="1052.7" y2="958" stroke-dasharray="3 2" marker-end="url(#a)"/>
<path d="M1165,804 H1140 Q1134,804 1134,798 V690"/>
<path d="M1194,690 Q1200,690 1200,684 V600 Q1200,580 1215,580 H1261" marker-end="url(#a)"/>
<path d="M1196,690 Q1204,690 1204,680 V602 Q1204,586 1218,586 H1261" marker-end="url(#a)"/>
<line x1="1290.5" y1="565" x2="1308" y2="572" stroke-dasharray="2 2" marker-end="url(#a)"/>
<line x1="1290.5" y1="578" x2="1308" y2="573" stroke-dasharray="2 2" marker-end="url(#a)"/>
<line x1="1290.5" y1="562" x2="1390" y2="536" stroke-dasharray="2 2" marker-end="url(#t)"/>
<line x1="1290.5" y1="563" x2="1390" y2="547" stroke-dasharray="2 2" marker-end="url(#a)"/>
<line x1="1337.8" y1="572.8" x2="1390" y2="572.8" marker-end="url(#a)"/>
<line x1="1337.8" y1="574" x2="1390" y2="600" marker-end="url(#a)"/>
<line x1="1337.8" y1="576" x2="1390" y2="636" marker-end="url(#a)"/>
<path d="M1322.7,578 V883 Q1322.7,887 1327,887 H1390" marker-end="url(#t)"/>
<line x1="1290.5" y1="690.8" x2="1390" y2="690.8" marker-end="url(#a)"/>
<line x1="1290.5" y1="691" x2="1390" y2="714" stroke-dasharray="2 2" marker-end="url(#a)"/>
<line x1="1290.5" y1="692" x2="1390" y2="740" marker-end="url(#a)"/>
<line x1="1290.5" y1="693" x2="1390" y2="764" marker-end="url(#a)"/>
<line x1="1290.5" y1="764.4" x2="1390" y2="764.4" marker-end="url(#a)"/>
<line x1="1290.5" y1="762" x2="1390" y2="690" marker-end="url(#a)"/>
<line x1="1272" y1="696" x2="1272" y2="759" marker-end="url(#a)"/>
<line x1="1279" y1="759.7" x2="1279" y2="697" marker-end="url(#a)"/>
<line x1="1529.7" y1="450" x2="1529.7" y2="645" stroke-dasharray="4 3" marker-end="url(#a)"/>
<line x1="1529.7" y1="680" x2="1529.7" y2="882" stroke-dasharray="4 3" marker-end="url(#a)"/>
<line x1="917" y1="776" x2="917" y2="803"/>
<line x1="919" y1="803" x2="919" y2="777" marker-end="url(#a)"/>
<path d="M860,781 L914,796 M860,804 L914,799" stroke-dasharray="3 2"/>
<line x1="890" y1="808.2" x2="903" y2="808.2"/>
<line x1="931.2" y1="808.2" x2="953" y2="808.2" marker-end="url(#a)"/>
</g>
</svg>
</body></html>
